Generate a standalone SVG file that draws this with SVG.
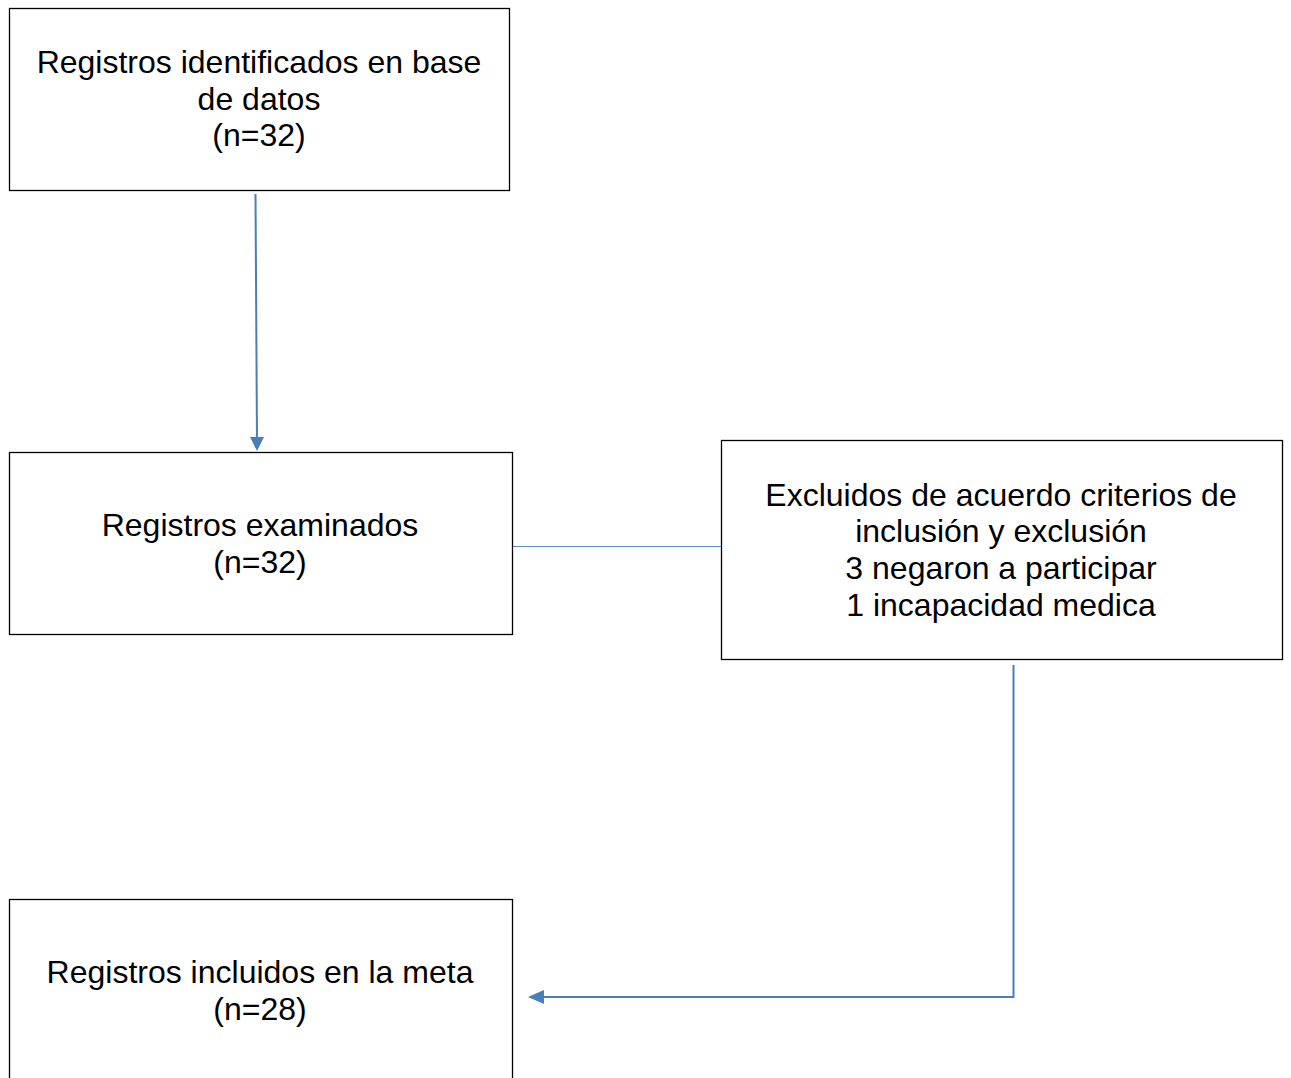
<svg xmlns="http://www.w3.org/2000/svg" width="1291" height="1078" viewBox="0 0 1291 1078">
<style>
.box{fill:#fff;stroke:#000;stroke-width:1.3}
.t{font-family:"Liberation Sans",Arial,sans-serif;font-size:32px;fill:#000;text-anchor:middle}
.c{fill:none;stroke:#4a7ebb;stroke-width:2}
.thin{fill:none;stroke:#5b8fd4;stroke-width:1}
</style>
<defs>
<marker id="ah" viewBox="0 0 10 10" refX="10" refY="5" markerWidth="6" markerHeight="6" markerUnits="userSpaceOnUse" orient="auto">
<path d="M0,0 L10,5 L0,10 z" fill="#4a7ebb"/>
</marker>
<marker id="ah2" viewBox="0 0 10 10" refX="10" refY="5" markerWidth="8" markerHeight="8" orient="auto">
<path d="M0,0 L10,5 L0,10 z" fill="#4a7ebb"/>
</marker>
</defs>
<g id="connectors">
<line class="c" x1="255.5" y1="194" x2="257" y2="440"/>
<path d="M250,437 L264,437 L257,451 z" fill="#4a7ebb"/>
<line class="thin" x1="511" y1="546.5" x2="721" y2="546.5"/>
<polyline class="c" points="1013.5,665 1013.5,997 543,997"/>
<path d="M544,990 L544,1004 L528,997 z" fill="#4a7ebb"/>
</g>
<g id="n1">
<rect class="box" x="9.5" y="8.5" width="500" height="182"/>
<text class="t" x="259" y="73">Registros identificados en base</text>
<text class="t" x="259" y="110">de datos</text>
<text class="t" x="259" y="146">(n=32)</text>
</g>
<g id="n2">
<rect class="box" x="9.5" y="452.5" width="503" height="182"/>
<text class="t" x="260" y="536">Registros examinados</text>
<text class="t" x="260" y="573">(n=32)</text>
</g>
<g id="n3">
<rect class="box" x="721.5" y="440.5" width="561" height="219"/>
<text class="t" x="1001" y="506">Excluidos de acuerdo criterios de</text>
<text class="t" x="1001" y="542">inclusión y exclusión</text>
<text class="t" x="1001" y="579">3 negaron a participar</text>
<text class="t" x="1001" y="616">1 incapacidad medica</text>
</g>
<g id="n4">
<rect class="box" x="9.5" y="899.5" width="503" height="200"/>
<text class="t" x="260" y="983">Registros incluidos en la meta</text>
<text class="t" x="260" y="1020">(n=28)</text>
</g>
</svg>
